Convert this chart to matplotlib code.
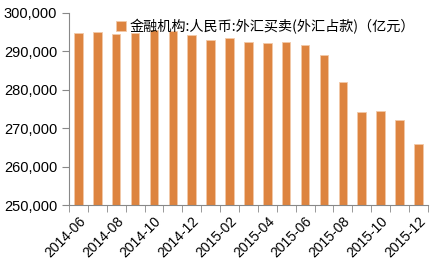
import matplotlib
matplotlib.use("Agg")
import matplotlib.pyplot as plt
import numpy as np
from matplotlib.ticker import FuncFormatter

months = ['2014-06', '2014-07', '2014-08', '2014-09', '2014-10', '2014-11', '2014-12',
          '2015-01', '2015-02', '2015-03', '2015-04', '2015-05', '2015-06', '2015-07',
          '2015-08', '2015-09', '2015-10', '2015-11', '2015-12']
values = [294633, 294893, 294590, 294637, 295408, 295358, 294090,
          293044, 293493, 292272, 292224, 292522, 291616, 289114,
          281931, 274311, 274426, 272246, 265828]
series_name = '金融机构:人民币:外汇买卖(外汇占款)（亿元）'

plt.rcParams['font.family'] = ['Liberation Sans', 'Noto Sans CJK SC']

fig = plt.figure(figsize=(4.42, 2.65), dpi=100)
ax = fig.add_axes([0.156, 0.225, 0.812, 0.727])

x = np.arange(len(months))
ax.bar(x, values, width=0.45, color='#DD8440', edgecolor='#F2C9A8', linewidth=0.6,
       label=series_name)

ax.set_ylim(250000, 300000)
ax.set_yticks(np.arange(250000, 300001, 10000))
ax.yaxis.set_major_formatter(FuncFormatter(lambda v, p: f'{int(v):,}'))
ax.set_xlim(-0.5, len(months) - 0.5)

ax.set_xticks(x[::2])
ax.set_xticklabels(months[::2], rotation=45, ha='right', rotation_mode='anchor')
ax.set_xticks(np.arange(-0.5, len(months), 1), minor=True)
ax.tick_params(axis='x', which='major', length=0, pad=6, labelsize=10)
ax.tick_params(axis='x', which='minor', length=5, color='#888888')
ax.tick_params(axis='y', length=5, color='#888888', labelsize=10.5)

for s in ['top', 'right']:
    ax.spines[s].set_visible(False)
for s in ['left', 'bottom']:
    ax.spines[s].set_color('#888888')

leg = ax.legend(loc='upper left', bbox_to_anchor=(0.095, 1.035), frameon=False,
                handlelength=0.75, handleheight=0.75, handletextpad=0.25,
                prop={'family': ['Noto Sans CJK SC', 'Liberation Sans'], 'size': 10.2})
leg.set_zorder(5)

fig.savefig('out.png', dpi=100)
